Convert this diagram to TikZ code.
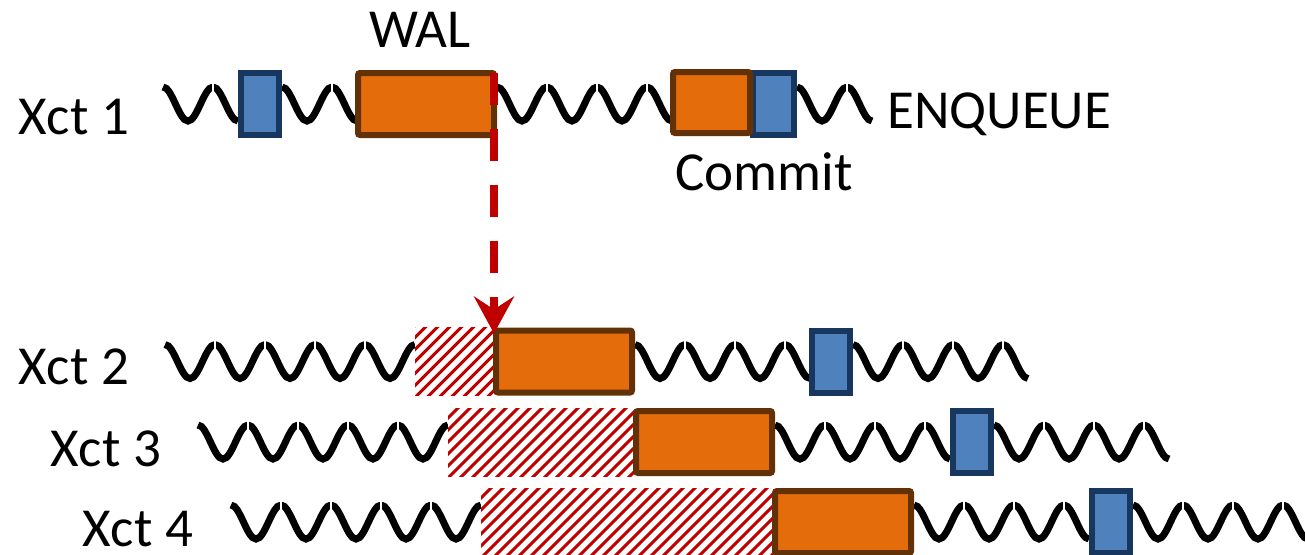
\documentclass[tikz,border=0pt]{standalone}
\usepackage{fontspec}
\setmainfont{Carlito}
\usetikzlibrary{arrows.meta}

\definecolor{ofill}{HTML}{E46C0A}
\definecolor{obrd}{HTML}{623105}
\definecolor{bfill}{HTML}{4F81BD}
\definecolor{bbrd}{HTML}{17375E}
\definecolor{wred}{HTML}{C00000}

\tikzset{
  wave/.style={line width=3.5pt, black},
  joint/.style={white, line width=0.8pt},
  stripe/.style={wred, line width=1.5pt},
  obox/.style={draw=obrd, fill=ofill, line width=3pt, rounded corners=1pt,
               inner sep=0pt, outer sep=0pt, minimum height=31pt},
  bbox/.style={draw=bbrd, fill=bfill, line width=3pt,
               inner sep=0pt, outer sep=0pt, minimum width=19pt, minimum height=31pt},
  lbl/.style={inner sep=0pt, font=\fontsize{27.5}{33}\selectfont},
  walarrow/.style={wred, line width=4pt, dash pattern=on 16pt off 12pt,
                   -{Stealth[length=18.5pt, width=20pt, inset=6.5pt]}},
}

% wavy line: #1 start x (at a crest), #2 centre y, #3 whole periods, #4 = 1 adds a half period
\newcommand\wavy[4]{%
  \foreach \i in {1,...,#3}{
    \draw[wave] ({#1+50*(\i-1)},{#2-17}) cos ++(12.5,17) sin ++(12.5,17)
                                          cos ++(12.5,-17) sin ++(12.5,-17);
  }
  \ifnum#4=1
    \draw[wave] ({#1+50*#3},{#2-17}) cos ++(12.5,17) sin ++(12.5,17);
  \fi
  \pgfmathtruncatemacro\nj{#3-1+#4}
  \foreach \k in {1,...,\nj}{
    \draw[joint] ({#1+50*\k},{#2-22}) -- ++(0,10);
  }
}

% hatched (waiting) band: #1 left x, #2 top y, #3 right x, #4 bottom y
\newcommand\hatch[4]{%
  \fill[white] (#1,#2) rectangle (#3,#4);
  \begin{scope}
    \clip (#1,#2) rectangle (#3,#4);
    \foreach \k in {0,...,34}{
      \draw[stripe] ({#1-72+12*\k},{#4+2}) -- ++(74,-74);
    }
  \end{scope}
}

\begin{document}
\begin{tikzpicture}[x=0.5pt, y=-0.5pt]
  \useasboundingbox (0,0) rectangle (1305,554);

  % ---- Xct 1 ----
  \wavy{163}{104}{1}{1}
  \wavy{282}{104}{1}{1}
  \wavy{497}{104}{3}{1}
  \wavy{797}{104}{1}{1}
  \node[bbox] (b11) at (260,104) {};
  \node[obox, minimum width=68pt] (o11) at (426,104) {};
  \node[bbox, minimum width=20.5pt] (b12) at (773.5,104) {};
  \node[obox, minimum width=38.5pt, minimum height=30.5pt] (o12) at (711.5,102.5) {};

  % ---- Xct 2 ----
  \wavy{165}{361.5}{5}{0}
  \wavy{635}{361.5}{3}{1}
  \wavy{853}{361.5}{3}{1}
  \hatch{415}{327.5}{495}{395.5}
  \node[obox, minimum width=68pt] (o21) at (564,361.5) {};
  \node[bbox] (b21) at (831,361.5) {};

  % ---- Xct 3 ----
  \wavy{198}{442}{5}{0}
  \wavy{775}{442}{3}{1}
  \wavy{994}{442}{3}{1}
  \hatch{448}{408}{635}{476}
  \node[obox, minimum width=68pt] (o31) at (704,442) {};
  \node[bbox] (b31) at (972,442) {};

  % ---- Xct 4 ----
  \wavy{231}{522}{5}{0}
  \wavy{914}{522}{3}{1}
  \wavy{1133}{522}{3}{1}
  \hatch{481}{488}{774}{556}
  \node[obox, minimum width=68pt] (o41) at (843,522) {};
  \node[bbox] (b41) at (1111,522) {};

  % WAL of Xct 1 releases Xct 2
  \draw[walarrow, shorten >=-1.5pt] (o11.north east) -- (o11.north east |- o21.north);

  % labels
  \node[lbl, anchor=base west] (x1) at (18,134) {Xct 1};
  \node[lbl, anchor=base west] (x2) at (18,384) {Xct 2};
  \node[lbl, anchor=base west] (x3) at (50,466) {Xct 3};
  \node[lbl, anchor=base west] (x4) at (82,546) {Xct 4};
  \node[lbl, anchor=base] (wal) at (420,47) {WAL};
  \node[lbl, anchor=base west] (commit) at (675,190) {Commit};
  \node[lbl, anchor=base west] (enq) at (887,128) {ENQUEUE};
\end{tikzpicture}
\end{document}
